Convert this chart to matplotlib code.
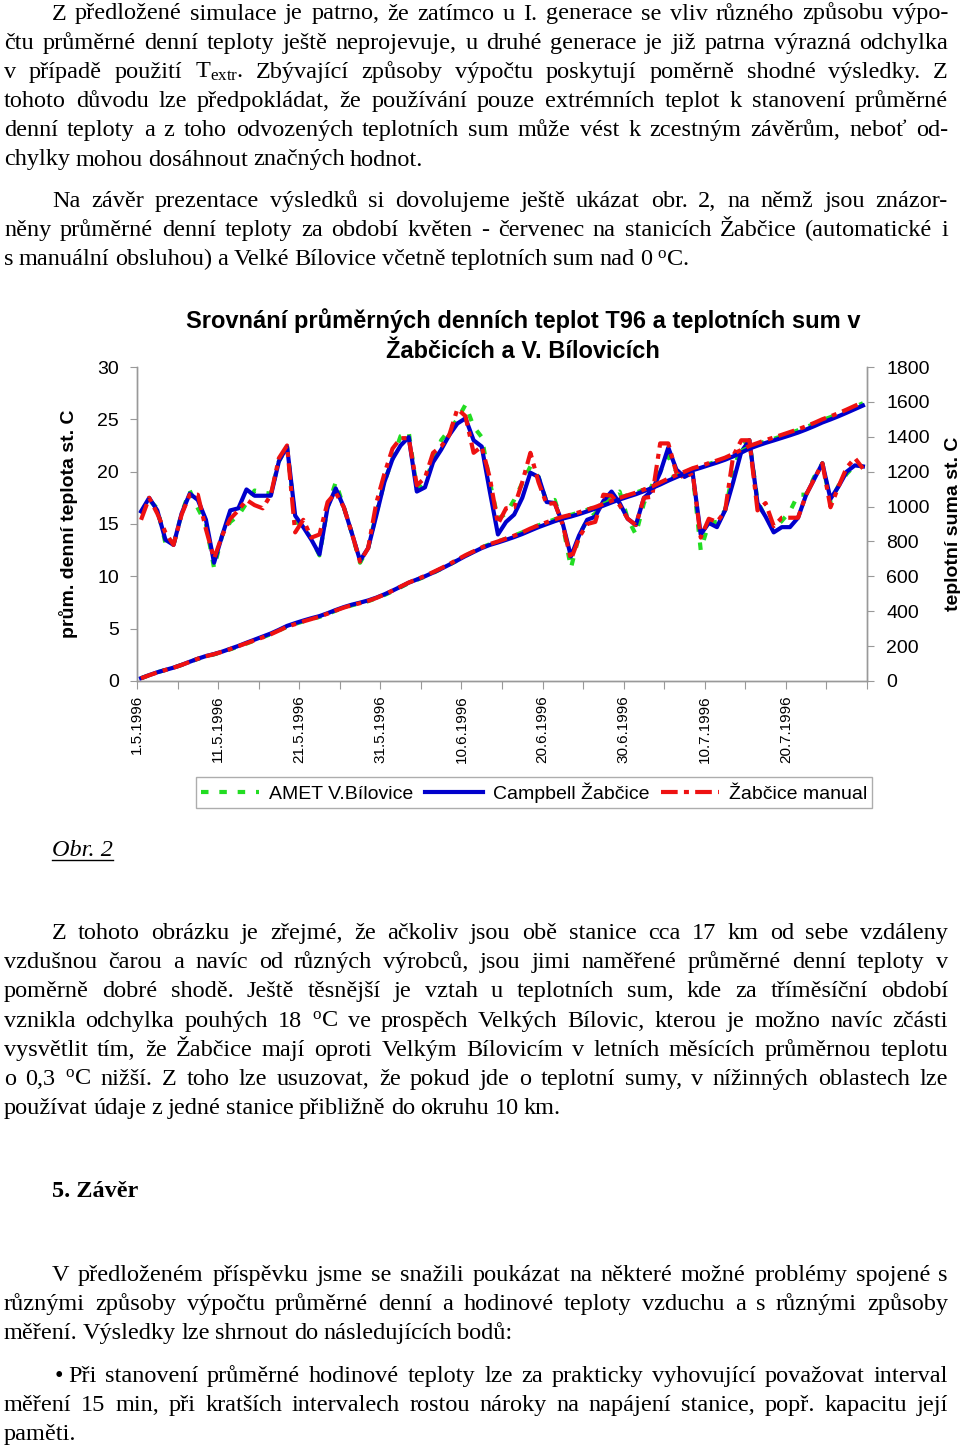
import matplotlib
matplotlib.use("Agg")
import matplotlib.pyplot as plt
import numpy as np
from matplotlib.lines import Line2D

W, H = 960, 1448

# --- data (daily mean temperatures, 1.5.1996 - 29.7.1996) ---
dny = np.arange(90)
campbell = [16.2, 17.5, 16.3, 13.5, 13.0, 16.0, 17.9, 17.3, 15.4, 11.3,
            13.9, 16.3, 16.5, 18.3, 17.7, 17.7, 17.7, 21.0, 22.4, 15.8,
            14.7, 13.5, 12.1, 16.6, 18.4, 16.6, 14.1, 11.5, 12.7, 15.8,
            19.0, 21.2, 22.5, 23.3, 18.1, 18.5, 20.9, 22.1, 23.5, 24.6,
            25.1, 23.0, 22.4, 18.1, 14.0, 15.2, 15.9, 17.5, 19.9, 19.5,
            17.1, 17.0, 15.0, 11.9, 13.9, 15.4, 15.7, 17.2, 18.1, 17.0,
            15.5, 14.9, 17.5, 18.2, 19.9, 22.3, 20.2, 19.5, 19.9, 14.0,
            15.1, 14.7, 16.3, 19.0, 21.9, 23.0, 17.0, 15.7, 14.2, 14.7,
            14.7, 15.6, 17.8, 19.3, 20.8, 17.4, 18.6, 20.0, 20.6, 20.5]
manual = [15.4, 17.5, 16.0, 14.2, 13.0, 15.9, 17.8, 17.8, 14.5, 11.7,
          13.9, 15.5, 16.3, 17.3, 16.8, 16.5, 17.8, 21.3, 22.5, 14.2,
          15.4, 13.7, 14.0, 17.1, 18.0, 16.6, 14.1, 11.4, 12.7, 17.0,
          19.8, 22.2, 23.2, 23.2, 18.7, 19.4, 21.8, 22.4, 23.5, 26.0,
          25.3, 21.8, 22.4, 19.4, 15.0, 16.5, 16.6, 19.0, 21.8, 19.0,
          16.9, 17.0, 14.9, 11.6, 13.7, 15.0, 15.2, 17.8, 17.7, 16.8,
          15.5, 14.9, 17.5, 17.6, 22.7, 22.7, 19.9, 19.4, 19.9, 13.7,
          15.5, 15.2, 16.2, 21.5, 23.0, 23.0, 16.3, 17.0, 14.8, 15.6,
          15.6, 15.6, 17.8, 19.3, 20.8, 16.6, 18.6, 20.4, 21.3, 20.3]
amet = [16.0, 17.3, 16.5, 13.2, 13.0, 16.0, 18.2, 16.5, 15.0, 10.8,
        13.9, 15.2, 15.8, 17.0, 18.2, 18.0, 17.9, 21.0, 22.4, 15.3,
        14.7, 13.6, 12.0, 16.6, 19.0, 16.6, 14.1, 11.3, 12.7, 16.0,
        19.0, 21.2, 23.4, 23.8, 18.3, 19.0, 21.0, 23.0, 24.0, 25.0,
        26.4, 24.3, 23.3, 19.0, 15.5, 16.0, 17.3, 18.9, 20.5, 19.5,
        17.1, 17.3, 14.9, 10.8, 13.9, 15.4, 16.0, 17.0, 17.5, 18.1,
        15.5, 14.0, 17.0, 18.7, 20.0, 21.5, 20.0, 19.5, 19.9, 12.5,
        15.1, 15.2, 16.3, 20.0, 22.5, 23.0, 17.2, 15.6, 14.5, 15.3,
        16.2, 17.8, 17.8, 19.5, 20.8, 17.1, 18.7, 19.8, 20.6, 20.5]
datumy = ["1.5.1996", "11.5.1996", "21.5.1996", "31.5.1996", "10.6.1996",
          "20.6.1996", "30.6.1996", "10.7.1996", "20.7.1996"]
nazvy = ["AMET V.Bílovice", "Campbell Žabčice", "Žabčice manual"]

# --- page text ---
P1 = ["Z předložené simulace je patrno, že zatímco u I. generace se vliv různého způsobu výpo-",
      "čtu průměrné denní teploty ještě neprojevuje, u druhé generace je již patrna výrazná odchylka",
      r"v případě použití T$_{\mathrm{extr}}$. Zbývající způsoby výpočtu poskytují poměrně shodné výsledky. Z",
      "tohoto důvodu lze předpokládat, že používání pouze extrémních teplot k stanovení průměrné",
      "denní teploty a z toho odvozených teplotních sum může vést k zcestným závěrům, neboť od-",
      "chylky mohou dosáhnout značných hodnot."]
P2 = ["Na závěr prezentace  výsledků si dovolujeme ještě ukázat obr. 2, na němž jsou  znázor-",
      "něny průměrné denní teploty za období květen - červenec na stanicích Žabčice (automatické i",
      r"s manuální obsluhou)  a Velké Bílovice včetně teplotních sum nad 0 $^{\mathrm{o}}$C."]
P3 = ["Z tohoto obrázku je zřejmé, že ačkoliv jsou obě stanice cca 17 km od sebe vzdáleny",
      "vzdušnou čarou a navíc od různých výrobců,  jsou jimi naměřené průměrné denní teploty v",
      "poměrně dobré shodě. Ještě těsnější je vztah u teplotních sum, kde za tříměsíční období",
      r"vznikla odchylka  pouhých 18 $^{\mathrm{o}}$C ve prospěch Velkých Bílovic, kterou je možno navíc zčásti",
      "vysvětlit tím, že Žabčice mají oproti Velkým Bílovicím v letních měsících průměrnou teplotu",
      r"o 0,3 $^{\mathrm{o}}$C nižší. Z toho lze usuzovat, že pokud jde o teplotní sumy, v nížinných oblastech lze",
      "používat údaje z jedné stanice přibližně do okruhu 10 km."]
P4 = ["V předloženém příspěvku jsme se snažili  poukázat na některé možné problémy spojené s",
      "různými způsoby výpočtu průměrné denní a hodinové teploty vzduchu a s různými způsoby",
      "měření. Výsledky lze shrnout do následujících bodů:"]
P5 = ["Při stanovení průměrné hodinové teploty lze za prakticky vyhovující považovat interval",
      "měření 15 min, při kratších intervalech rostou nároky na napájení stanice, popř. kapacitu její",
      "paměti."]

plt.rcParams['font.family'] = ['Liberation Sans', 'DejaVu Sans']
plt.rcParams['mathtext.fontset'] = 'custom'
plt.rcParams['mathtext.rm'] = 'Liberation Serif'
plt.rcParams['mathtext.it'] = 'Liberation Serif:italic'
plt.rcParams['mathtext.bf'] = 'Liberation Serif:bold'

fig = plt.figure(figsize=(9.6, 14.48), dpi=100)
renderer = fig.canvas.get_renderer()
SERIF = 'Liberation Serif'
FS = 17.5


def radek(y, text, x0=4, x1=948, justify=True, fs=FS):
    words = text.split()
    span = x1 - x0
    while True:
        arts = [fig.text(0, 1 - y / H, w, fontsize=fs, family=SERIF, va='baseline') for w in words]
        widths = [a.get_window_extent(renderer).width for a in arts]
        space = 0.22 * fs * 100 / 72
        natural = sum(widths) + space * (len(words) - 1)
        if natural <= span or not justify:
            break
        for a in arts:
            a.remove()
        fs = fs * span / natural * 0.995
    if justify and len(words) > 1:
        gap = (span - sum(widths)) / (len(words) - 1)
    else:
        gap = space
    x = x0
    for a, w in zip(arts, widths):
        a.set_x(x / W)
        x += w + gap


def odstavec(lines, y0, indent=52, x0=4, step=29.2):
    for i, t in enumerate(lines):
        radek(y0 + i * step, t, x0=indent if i == 0 else x0, justify=i < len(lines) - 1)


odstavec(P1, 19.5)
odstavec(P2, 207)
odstavec(P3, 939)
fig.text(52 / W, 1 - 1197 / H, "5. Závěr", fontsize=FS, family=SERIF, weight='bold', va='baseline')
odstavec(P4, 1281)
fig.text(55 / W, 1 - 1382 / H, "•", fontsize=FS, family=SERIF, va='baseline')
odstavec(P5, 1382, indent=68)

obr = fig.text(52 / W, 1 - 856 / H, "Obr. 2", fontsize=FS, family=SERIF, style='italic', va='baseline')
wo = obr.get_window_extent(renderer).width
fig.add_artist(Line2D([52 / W, (52 + wo) / W], [1 - 860 / H] * 2, color='black', lw=1))

# --- chart ---
green, blue, red = '#22dd22', '#0000cc', '#ee1111'
grey = '#999999'
lw = 3

ax = fig.add_axes([137 / W, 1 - 681 / H, 730 / W, 314 / H])
ax2 = ax.twinx()

l1, = ax.plot(dny, amet, color=green, lw=lw, dashes=(1.8, 2.6), label=nazvy[0])
l2, = ax.plot(dny, campbell, color=blue, lw=lw, label=nazvy[1])
l3, = ax.plot(dny, manual, color=red, lw=lw, dashes=(4, 1.5, 1.2, 1.5), label=nazvy[2])
ax2.plot(dny, np.cumsum(amet), color=green, lw=lw, dashes=(1.8, 2.6))
ax2.plot(dny, np.cumsum(campbell), color=blue, lw=lw)
ax2.plot(dny, np.cumsum(manual), color=red, lw=lw, dashes=(4, 1.5, 1.2, 1.5))

ax.set_xlim(-0.5, 89.5)
ax.set_ylim(0, 30)
ax2.set_ylim(0, 1800)
ax.set_yticks(range(0, 31, 5))
ax2.set_yticks(range(0, 1801, 200))

ticks = [-0.5 + 5 * k for k in range(19)]
labels = [datumy[k // 2] if k % 2 == 0 and k // 2 < len(datumy) else "" for k in range(19)]
ax.set_xticks(ticks)
ax.set_xticklabels(labels, rotation=90, fontsize=11)

for a in (ax, ax2):
    a.spines['top'].set_visible(False)
    for s in ('left', 'right', 'bottom'):
        a.spines[s].set_color(grey)
        a.spines[s].set_linewidth(1)
ax.tick_params(axis='y', direction='out', length=5, color=grey, labelsize=14, pad=8)
ax2.tick_params(axis='y', direction='out', length=5, color=grey, labelsize=14, pad=9)
ax.tick_params(axis='x', direction='out', length=6, color=grey, pad=4)

ax.set_ylabel("prům. denní teplota st. C", fontsize=14, weight='bold')
ax.yaxis.set_label_coords(-0.081, 0.5)
ax2.set_ylabel("teplotní suma st. C", fontsize=14, weight='bold')
ax2.yaxis.set_label_coords(1.107, 0.5)

fig.text(523 / W, 1 - 321 / H, "Srovnání průměrných denních teplot T96 a teplotních sum v",
         ha='center', va='center', fontsize=17, weight='bold')
fig.text(523 / W, 1 - 352 / H, "Žabčicích a V. Bílovicích",
         ha='center', va='center', fontsize=17, weight='bold')

leg = fig.legend([l1, l2, l3], nazvy, loc='center', bbox_to_anchor=(534 / W, 1 - 792.5 / H),
                 ncol=3, fontsize=14, frameon=True, fancybox=False, edgecolor=grey,
                 handlelength=3, handletextpad=0.5, columnspacing=0.6, borderpad=0.25)
leg.get_frame().set_linewidth(1)

fig.savefig("out.png", dpi=100)
